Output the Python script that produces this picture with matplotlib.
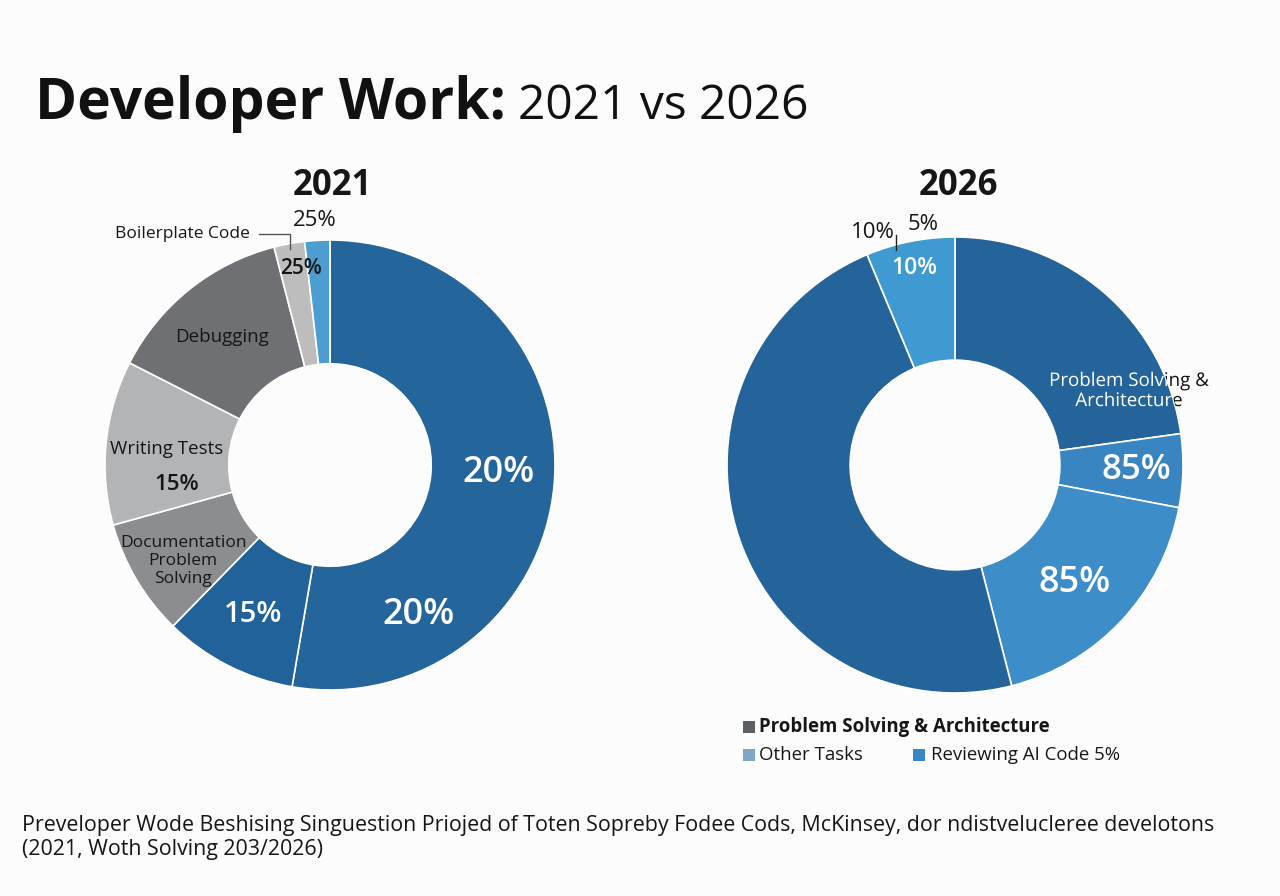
import matplotlib
matplotlib.use("Agg")
import numpy as np
import matplotlib.pyplot as plt
import matplotlib.patheffects as pe
from matplotlib.patches import Rectangle
from matplotlib.lines import Line2D
from matplotlib.path import Path

plt.rcParams['font.family'] = ['Open Sans', 'DejaVu Sans']

# ---------------- data ----------------
title_bold = "Developer Work:"
title_rest = "2021 vs 2026"
years = ["2021", "2026"]

# 2021 slices, clockwise from 12 o'clock (percent of ring)
share_2021 = [52.7, 9.6, 8.4, 11.8, 13.5, 2.2, 1.8]
colors_2021 = ["#24659b", "#22629a", "#8c8d90", "#b3b4b6", "#6e7073", "#bdbdbe", "#4b9dd2"]

# 2026 slices, clockwise from 12 o'clock
share_2026 = [22.8, 5.2, 18.0, 47.7, 6.3]
colors_2026 = ["#25649a", "#3985c1", "#3c8dc8", "#24649a", "#3e9ad0"]

labels_2021 = ["Boilerplate Code", "Debugging", "Writing Tests", "Documentation\nProblem\nSolving"]
pct_2021_black = ["25%", "25%", "15%"]
pct_2021_white = ["20%", "20%", "15%"]
labels_2026 = ["Problem Solving &\nArchitecture"]
pct_2026_black = ["10%", "5%"]
pct_2026_white = ["10%", "85%", "85%"]

legend_labels = ["Problem Solving & Architecture", "Other Tasks", "Reviewing AI Code 5%"]
legend_colors = ["#5c5f63", "#7ea7c7", "#3a86c5"]

footer = ["Preveloper Wode Beshising Singuestion Priojed of Toten Sopreby Fodee Cods, McKinsey, dor ndistvelucleree develotons",
          "(2021, Woth Solving 203/2026)"]

# ---------------- figure ----------------
W, H = 1280, 896
fig = plt.figure(figsize=(W / 100, H / 100), dpi=100)
fig.patch.set_facecolor("#fcfcfc")


def P(x, y):
    return (x / W, 1 - y / H)


def txt(x, y, s, **kw):
    kw.setdefault("ha", "center")
    kw.setdefault("va", "center")
    kw.setdefault("color", "#161616")
    return fig.text(*P(x, y), s, **kw)


def donut(cx, cy, r, vals, cols, width):
    ax = fig.add_axes([(cx - r) / W, 1 - (cy + r) / H, 2 * r / W, 2 * r / H])
    wedges, _ = ax.pie(vals, colors=cols, startangle=90, counterclock=False, radius=1,
                       wedgeprops=dict(width=width, edgecolor="white", linewidth=1.2))
    ax.set_xlim(-1, 1)
    ax.set_ylim(-1, 1)
    ax.axis("off")
    return ax, wedges


# title
t1 = txt(35, 119, title_bold, ha="left", va="baseline", fontsize=41, fontweight="bold",
         color="#111111")
fig.canvas.draw()
bb = t1.get_window_extent()
x_after = bb.x1 + 12
fig.text(x_after / W, 1 - 119 / H, title_rest, ha="left", va="baseline", fontsize=34.5,
         color="#111111")

# sub-titles
txt(332, 186, years[0], fontsize=25, fontweight="bold")
txt(958, 186, years[1], fontsize=25, fontweight="bold")

# ---------------- 2021 donut ----------------
axL, wL = donut(330, 465, 225, share_2021, colors_2021, 0.55)

txt(250, 234, labels_2021[0], ha="right", fontsize=12.5)
fig.add_artist(Line2D([259 / W, 290 / W, 290 / W], [1 - 234 / H, 1 - 234 / H, 1 - 249 / H],
                      color="#555555", lw=1))
txt(315, 221, pct_2021_black[0], fontsize=16, fontweight="medium")
txt(301, 269, pct_2021_black[1], fontsize=15, fontweight="semibold")
txt(222, 337, labels_2021[1], fontsize=13.5)
txt(167, 449, labels_2021[2], fontsize=13.5)
txt(177, 484, pct_2021_black[2], fontsize=16, fontweight="semibold")
txt(183, 561, labels_2021[3], fontsize=12.5, linespacing=1.2)

txt(498, 473, pct_2021_white[0], fontsize=26, fontweight="semibold", color="white")
txt(418, 615, pct_2021_white[1], fontsize=26, fontweight="semibold", color="white")
txt(253, 614, pct_2021_white[2], fontsize=21, fontweight="semibold", color="white")

# ---------------- 2026 donut ----------------
axR, wR = donut(955, 465, 228, share_2026, colors_2026, 0.54)

txt(873, 233, pct_2026_black[0], fontsize=16)
txt(923, 225, pct_2026_black[1], fontsize=16)
fig.add_artist(Line2D([896 / W, 896 / W], [1 - 235 / H, 1 - 250 / H], color="#222222", lw=1))
txt(914, 268, pct_2026_white[0], fontsize=16.5, fontweight="semibold", color="white")

# label partially overflowing the ring: black outside the ring, white inside the wedge
th = np.linspace(0, 2 * np.pi, 400)
outer_rect = [(-5, -5), (5, -5), (5, 5), (-5, 5), (-5, -5)]
circle_cw = list(zip(np.cos(-th), np.sin(-th)))
outside_path = Path.make_compound_path(Path(outer_rect, closed=True), Path(circle_cw, closed=True))
as_path = [pe.Normal()]  # draw glyphs as paths so that clip paths apply
tb = txt(1129, 391, labels_2026[0], fontsize=13.5, linespacing=1.15, color="#111111",
         path_effects=as_path)
tb.set_clip_path(outside_path, axR.transData)
tw = txt(1129, 391, labels_2026[0], fontsize=13.5, linespacing=1.15, color="white",
         path_effects=as_path)
tw.set_clip_path(wR[0])

txt(1136, 470, pct_2026_white[1], fontsize=25, fontweight="semibold", color="white")
txt(1075, 583, pct_2026_white[2], fontsize=26, fontweight="semibold", color="white")

# ---------------- legend ----------------
leg_pos = [(743, 721, 759, 727), (743, 749, 759, 755), (913, 749, 931, 755)]
for (sx, sy, tx, ty), lab, col, i in zip(leg_pos, legend_labels, legend_colors, range(3)):
    fig.add_artist(Rectangle(P(sx, sy + 12), 12 / W, 12 / H, facecolor=col, edgecolor="none"))
    txt(tx, ty, lab, ha="left", fontsize=13.4, fontweight="bold" if i == 0 else "normal")

# ---------------- footer ----------------
txt(22, 831, footer[0], ha="left", va="baseline", fontsize=15.4, color="#151515")
txt(22, 855, footer[1], ha="left", va="baseline", fontsize=15.4, color="#151515")

fig.savefig("out.png", dpi=100, facecolor=fig.get_facecolor())
